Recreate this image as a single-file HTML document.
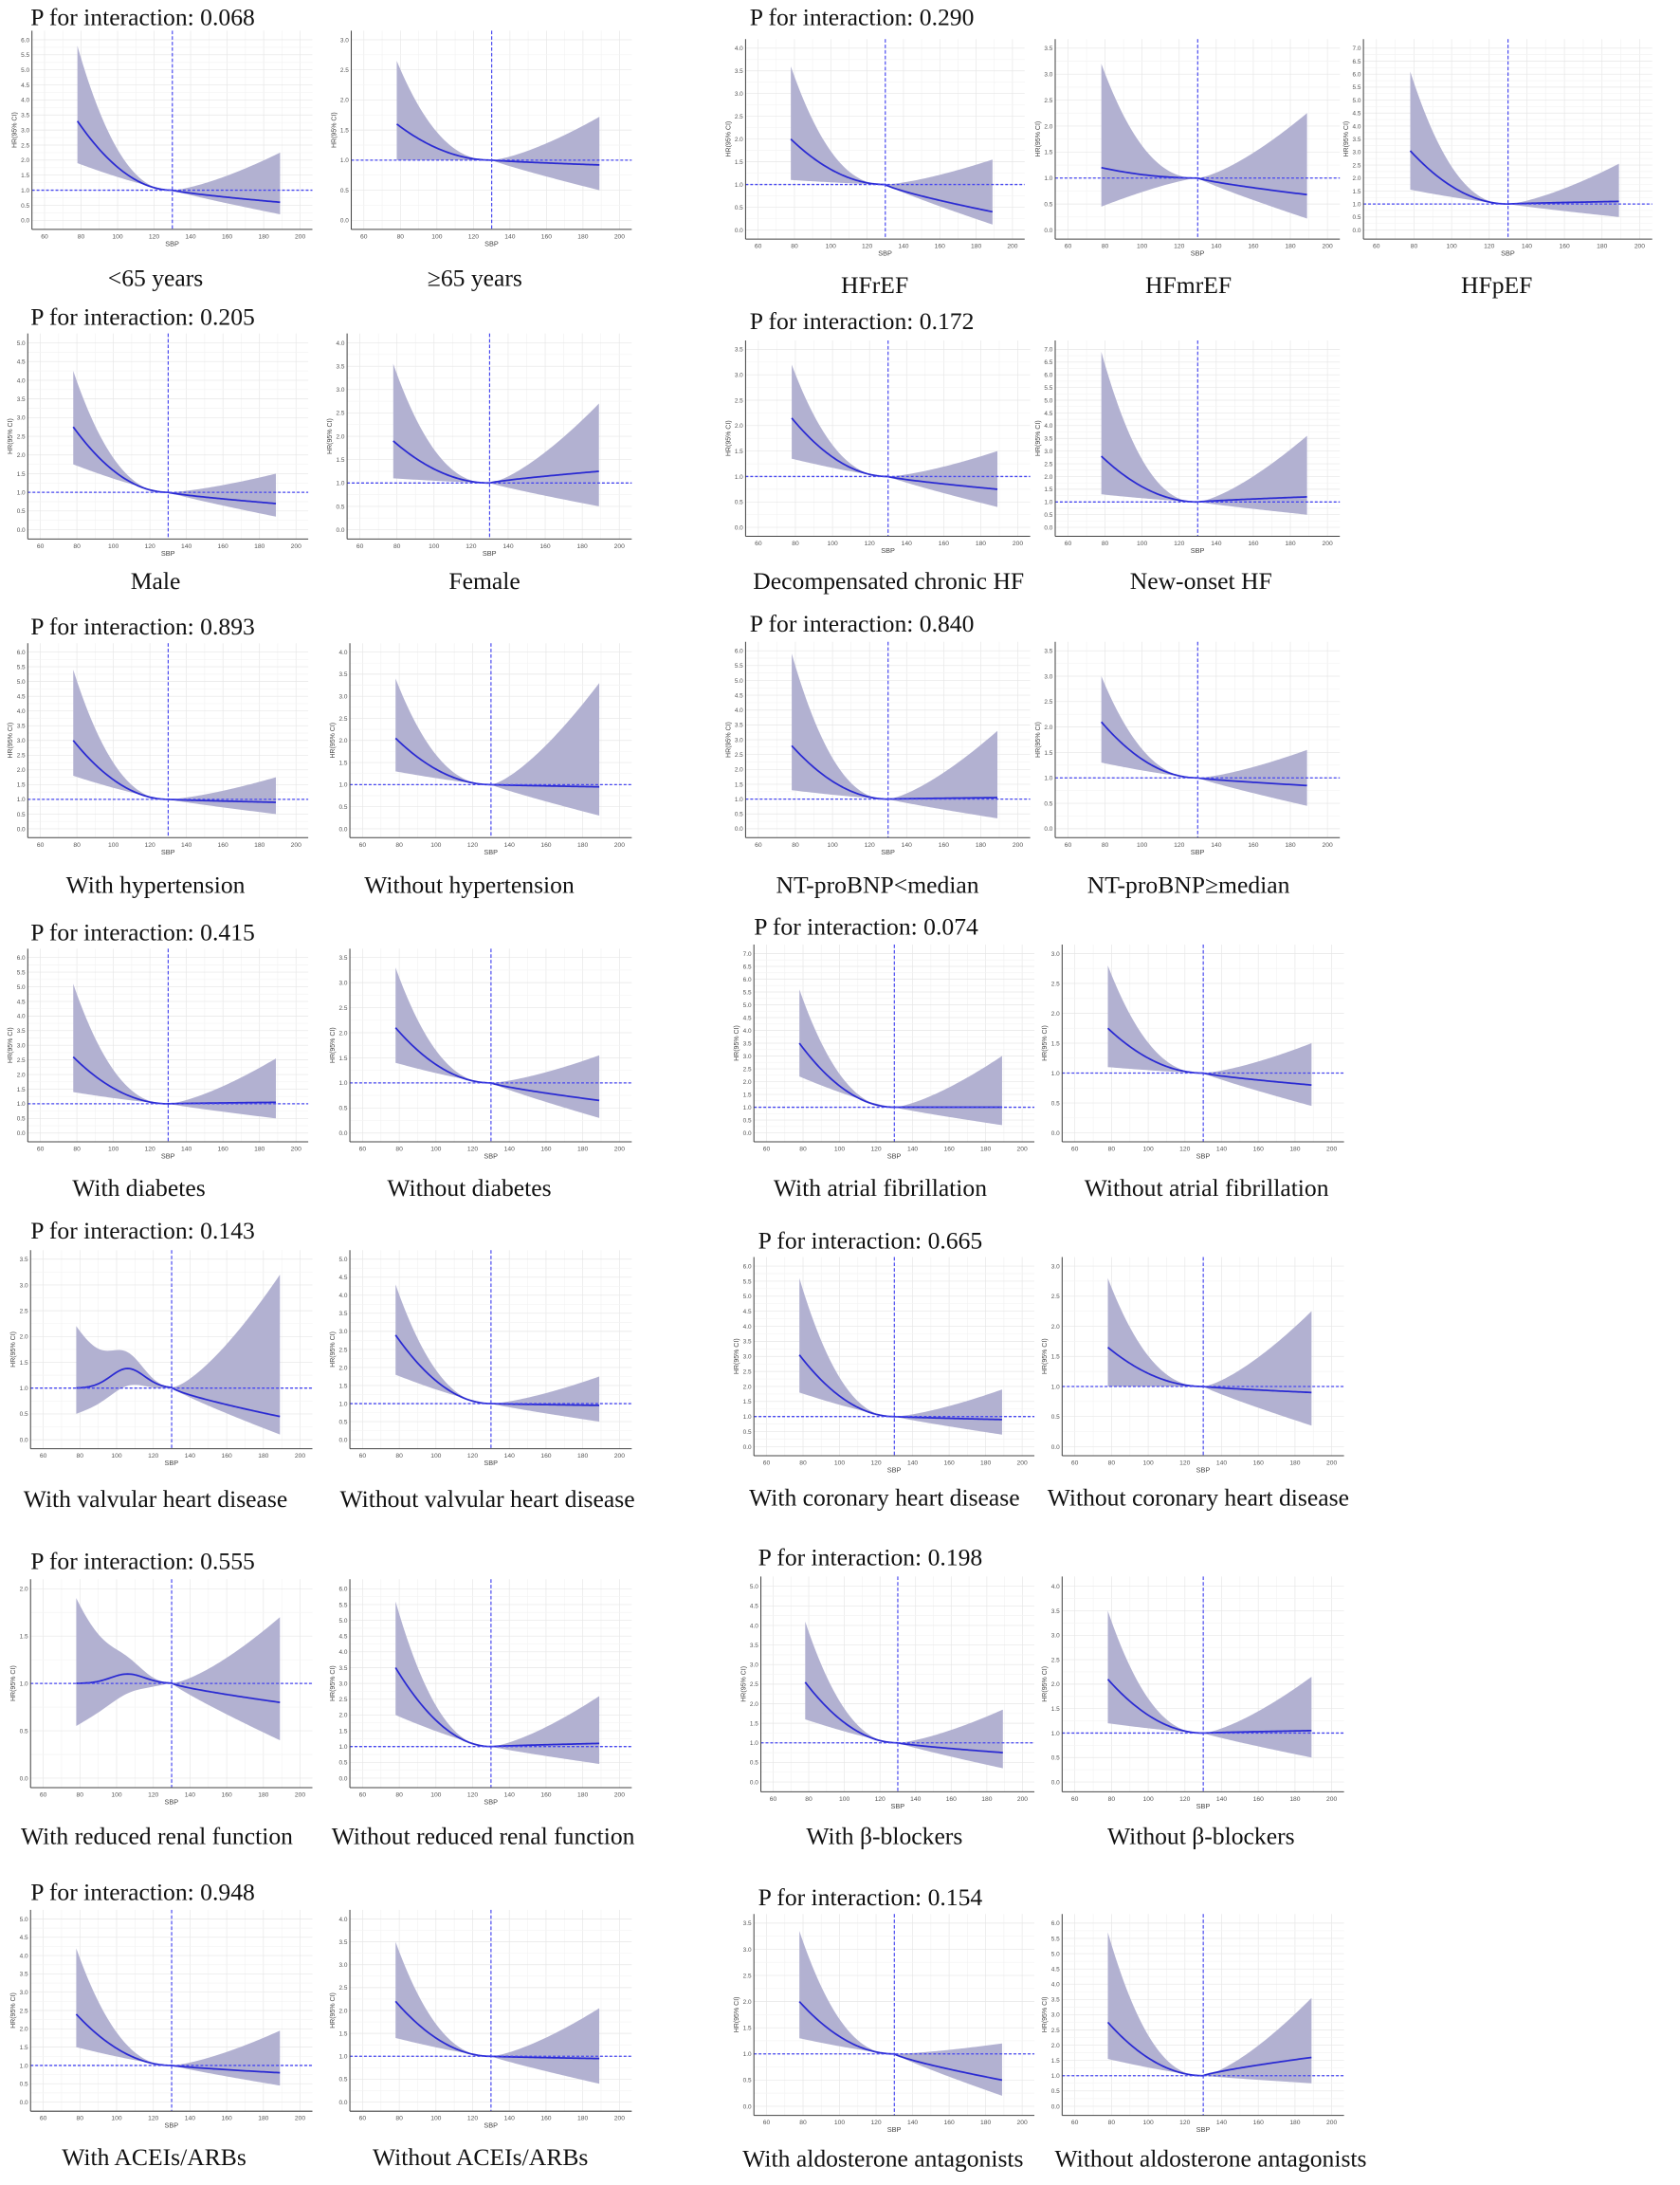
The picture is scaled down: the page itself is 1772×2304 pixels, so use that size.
<!DOCTYPE html>
<html><head><meta charset="utf-8"><style>
html,body{margin:0;padding:0;background:#fff}
svg{display:block}
.t{font-family:"Liberation Serif",serif;font-size:17.5px;fill:#111;dominant-baseline:central}
.b{font-family:"Liberation Serif",serif;font-size:17.5px;fill:#111;dominant-baseline:central;text-anchor:middle}
</style></head><body>
<svg id="s" width="1772" height="2304" viewBox="0 0 1210 1573" xmlns="http://www.w3.org/2000/svg">
<rect width="1210" height="1573" fill="#fff"/>
<g id="plots"></g>
<text class="t" x="22" y="12">P for interaction: 0.068</text>
<text class="t" x="540" y="12">P for interaction: 0.290</text>
<text class="t" x="22" y="228">P for interaction: 0.205</text>
<text class="t" x="540" y="231">P for interaction: 0.172</text>
<text class="t" x="22" y="451">P for interaction: 0.893</text>
<text class="t" x="540" y="449">P for interaction: 0.840</text>
<text class="t" x="22" y="671">P for interaction: 0.415</text>
<text class="t" x="543" y="667">P for interaction: 0.074</text>
<text class="t" x="22" y="886">P for interaction: 0.143</text>
<text class="t" x="546" y="893">P for interaction: 0.665</text>
<text class="t" x="22" y="1124">P for interaction: 0.555</text>
<text class="t" x="546" y="1121">P for interaction: 0.198</text>
<text class="t" x="22" y="1362">P for interaction: 0.948</text>
<text class="t" x="546" y="1366">P for interaction: 0.154</text>

<text class="b" x="112" y="200">&lt;65 years</text>
<text class="b" x="342" y="200">≥65 years</text>
<text class="b" x="630" y="205">HFrEF</text>
<text class="b" x="856" y="205">HFmrEF</text>
<text class="b" x="1078" y="205">HFpEF</text>
<text class="b" x="112" y="418">Male</text>
<text class="b" x="349" y="418">Female</text>
<text class="b" x="640" y="418">Decompensated chronic HF</text>
<text class="b" x="865" y="418">New-onset HF</text>
<text class="b" x="112" y="637">With hypertension</text>
<text class="b" x="338" y="637">Without hypertension</text>
<text class="b" x="632" y="637">NT-proBNP&lt;median</text>
<text class="b" x="856" y="637">NT-proBNP≥median</text>
<text class="b" x="100" y="855">With diabetes</text>
<text class="b" x="338" y="855">Without diabetes</text>
<text class="b" x="634" y="855">With atrial fibrillation</text>
<text class="b" x="869" y="855">Without atrial fibrillation</text>
<text class="b" x="112" y="1079">With valvular heart disease</text>
<text class="b" x="351" y="1079">Without valvular heart disease</text>
<text class="b" x="637" y="1078">With coronary heart disease</text>
<text class="b" x="863" y="1078">Without coronary heart disease</text>
<text class="b" x="113" y="1322">With reduced renal function</text>
<text class="b" x="348" y="1322">Without reduced renal function</text>
<text class="b" x="637" y="1322">With β-blockers</text>
<text class="b" x="865" y="1322">Without β-blockers</text>
<text class="b" x="111" y="1553">With ACEIs/ARBs</text>
<text class="b" x="346" y="1553">Without ACEIs/ARBs</text>
<text class="b" x="636" y="1554">With aldosterone antagonists</text>
<text class="b" x="872" y="1554">Without aldosterone antagonists</text>
</svg>
<script>
var NS="http://www.w3.org/2000/svg";
var G=document.getElementById("plots");
function el(n,a,p){var e=document.createElementNS(NS,n);for(var k in a)e.setAttribute(k,a[k]);(p||G).appendChild(e);return e;}
var cid=0;
function P(x0,x1,y0,y1,ymax,e,l,h,e2,l2,h2,bump){
 var sx=function(v){return x0+(v-53.1)/153.6*(x1-x0)};
 var sy=function(v){return y1-(v+0.05*ymax)/(1.1*ymax)*(y1-y0)};
 var g=el("g",{});
 for(var x=50;x<=210;x+=10){var X=sx(x);if(X<x0||X>x1)continue;el("line",{x1:X,x2:X,y1:y0,y2:y1,stroke:x%20==0?"#e6e6e6":"#f3f3f3","stroke-width":0.45},g);}
 for(var y=0;y<=ymax+0.01;y+=0.25){var Y=sy(y);var maj=Math.abs(y*2-Math.round(y*2))<0.01;el("line",{x1:x0,x2:x1,y1:Y,y2:Y,stroke:maj?"#e6e6e6":"#f3f3f3","stroke-width":0.45},g);}
 cid++;var cp=el("clipPath",{id:"c"+cid},g);el("rect",{x:x0,y:y0,width:x1-x0,height:y1-y0},cp);
 var gc=el("g",{"clip-path":"url(#c"+cid+")"},g);
 function f(x,a,b,pl,pr){if(x<=130)return 1+(a-1)*Math.pow((130-x)/52,pl);return 1+(b-1)*Math.pow((x-130)/59,pr);}
 function bm(x,B){return B*Math.exp(-Math.pow((x-106)/13,2));}
 var up=[],lo=[],es=[];
 for(var x=78;x<=189;x+=1){
  var B=bump||0;
  up.push(sx(x).toFixed(2)+","+sy(f(x,h,h2,2.3,1.4)+bm(x,B*1.3)).toFixed(2));
  lo.push(sx(x).toFixed(2)+","+sy(f(x,l,l2,1.3,0.9)+bm(x,B*0.6)).toFixed(2));
  es.push(sx(x).toFixed(2)+","+sy(f(x,e,e2,2.0,0.8)+bm(x,B)).toFixed(2));
 }
 el("polygon",{points:up.concat(lo.reverse()).join(" "),fill:"#b2b1d1"},gc);
 el("polyline",{points:es.join(" "),fill:"none",stroke:"#2a2ad2","stroke-width":1.2},gc);
 el("line",{x1:x0,x2:x1,y1:sy(1),y2:sy(1),stroke:"#4646f0","stroke-width":0.9,"stroke-dasharray":"2,1.4"},g);
 el("line",{x1:sx(130),x2:sx(130),y1:y0,y2:y1,stroke:"#4646f0","stroke-width":0.8,"stroke-dasharray":"2.5,1.5"},g);
 el("line",{x1:x0,x2:x0,y1:y0,y2:y1,stroke:"#444","stroke-width":0.7},g);
 el("line",{x1:x0,x2:x1,y1:y1,y2:y1,stroke:"#444","stroke-width":0.7},g);
 for(var x=60;x<=200;x+=20){var t=el("text",{x:sx(x),y:y1+6.5,"font-size":4.6,"font-family":"Liberation Sans,sans-serif",fill:"#555","text-anchor":"middle"},g);t.textContent=x;}
 for(var y=0;y<=ymax+0.01;y+=0.5){var t=el("text",{x:x0-1.8,y:sy(y)+1.6,"font-size":4.4,"font-family":"Liberation Sans,sans-serif",fill:"#555","text-anchor":"end"},g);t.textContent=y.toFixed(1);}
 var t=el("text",{x:(x0+x1)/2,y:y1+12,"font-size":5,"font-family":"Liberation Sans,sans-serif",fill:"#444","text-anchor":"middle"},g);t.textContent="SBP";
 var cy=(y0+y1)/2;t=el("text",{x:x0-11,y:cy,"font-size":4.8,"font-family":"Liberation Sans,sans-serif",fill:"#444","text-anchor":"middle",transform:"rotate(-90 "+(x0-11)+" "+cy+")"},g);t.textContent="HR(95% CI)";
}
var D=[
[23,225,22,165,6,3.3,1.9,5.8,.6,.2,2.25],
[253,455,22,165,3,1.6,1.0,2.65,.92,.5,1.72],
[537,738,28,172,4,2.0,1.1,3.6,.4,.12,1.55],
[760,965,28,172,3.5,1.2,.45,3.2,.68,.22,2.25],
[982,1190,28,172,7,3.05,1.55,6.1,1.1,.5,2.55],
[20,222,240,388,5,2.75,1.75,4.25,.7,.35,1.5],
[250,455,240,388,4,1.9,1.1,3.55,1.25,.5,2.7],
[537,742,245,386,3.5,2.15,1.35,3.2,.75,.4,1.5],
[760,965,245,386,7,2.8,1.3,6.9,1.2,.5,3.6],
[20,222,463,603,6,3.0,1.8,5.4,.9,.5,1.75],
[252,455,463,603,4,2.05,1.3,3.4,.95,.3,3.3],
[537,742,462,603,6,2.8,1.3,5.9,1.05,.35,3.3],
[760,965,462,603,3.5,2.1,1.3,3.0,.85,.45,1.55],
[20,222,683,822,6,2.6,1.4,5.1,1.05,.5,2.55],
[252,455,683,822,3.5,2.1,1.4,3.3,.65,.3,1.55],
[543,745,680,822,7,3.5,2.2,5.6,1.0,.3,3.0],
[765,968,680,822,3,1.75,1.1,2.8,.8,.45,1.5],
[22,225,900,1043,3.5,1.0,.5,2.2,.45,.1,3.2,0.38],
[252,455,900,1043,5,2.9,1.8,4.3,.95,.5,1.75],
[543,745,905,1048,6,3.05,1.8,5.6,.9,.4,1.9],
[765,968,905,1048,3,1.65,1.0,2.8,.9,.35,2.25],
[22,225,1137,1287,2,1.0,.55,1.9,.8,.4,1.7,0.1],
[252,455,1137,1287,6,3.5,2.0,5.6,1.1,.45,2.6],
[548,745,1135,1290,5,2.55,1.6,4.1,.75,.35,1.85],
[765,968,1135,1290,4,2.1,1.2,3.5,1.05,.5,2.15],
[22,225,1375,1520,5,2.4,1.5,4.2,.8,.45,1.95],
[252,455,1375,1520,4,2.2,1.4,3.5,.95,.4,2.05],
[543,745,1378,1523,3.5,2.0,1.3,3.35,.5,.2,1.2],
[765,968,1378,1523,6,2.75,1.55,5.7,1.6,.75,3.55]
];
D.forEach(function(d){P.apply(null,d);});
</script>
</body></html>
